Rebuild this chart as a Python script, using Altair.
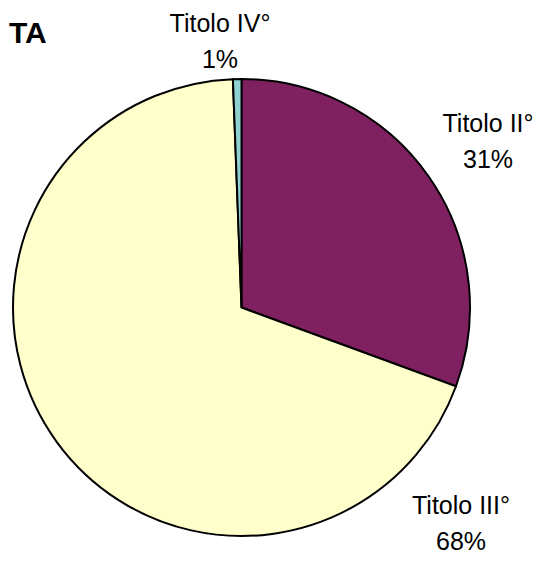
import altair as alt
import pandas as pd

categories = ["Titolo II°", "Titolo III°", "Titolo IV°"]
values = [30.6, 68.8, 0.6]
pct_labels = ["31%", "68%", "1%"]
colors = ["#7F2060", "#FFFFCC", "#90D2D2"]

df = pd.DataFrame({
    "cat": categories,
    "val": values,
    "order": list(range(len(categories))),
    "label": [c + "\n" + p for c, p in zip(categories, pct_labels)],
})

CX, CY, R = 233.5, 299.5, 228.5

pie = alt.Chart(df).mark_arc(
    outerRadius=R, stroke="black", strokeWidth=2
).encode(
    theta=alt.Theta("val:Q", stack=True),
    order=alt.Order("order:Q"),
    color=alt.Color("cat:N", scale=alt.Scale(domain=categories, range=colors), legend=None),
    x=alt.value(CX),
    y=alt.value(CY),
)

label_pos = {"Titolo II°": (480, 124), "Titolo III°": (453, 506), "Titolo IV°": (212, 24)}
layers = [pie]
for cat, (lx, ly) in label_pos.items():
    layers.append(
        alt.Chart(df).transform_filter(alt.datum.cat == cat).mark_text(
            font="Liberation Sans", fontSize=25, lineBreak="\n", lineHeight=36,
            align="center", baseline="alphabetic", color="black"
        ).encode(text="label:N", x=alt.value(lx), y=alt.value(ly))
    )

title = alt.Chart(pd.DataFrame({"t": ["TA"]})).mark_text(
    font="Liberation Sans Narrow, Liberation Sans", fontSize=30, fontWeight="bold",
    align="left", baseline="alphabetic", color="black"
).encode(text="t:N", x=alt.value(1), y=alt.value(35))
layers.append(title)

chart = alt.layer(*layers).properties(
    width=529, height=550, padding=0,
    autosize=alt.AutoSizeParams(type="none")
).configure_view(stroke=None)

chart.save("out.html", embed_options={"renderer": "svg", "actions": False})
